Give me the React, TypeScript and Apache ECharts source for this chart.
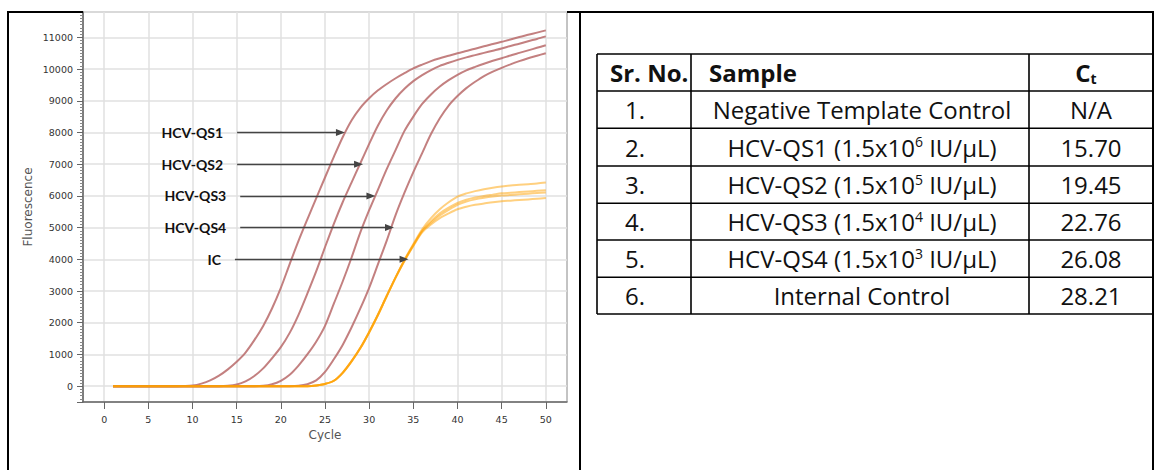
import React, { useEffect, useRef } from 'react';
import * as echarts from 'echarts';

const cycles = [1, 2, 3, 4, 5, 6, 7, 8, 9, 10, 11, 12, 13, 14, 15, 16, 17, 18, 19, 20, 21, 22, 23, 24, 25, 26, 27, 28, 29, 30, 31, 32, 33, 34, 35, 36, 37, 38, 39, 40, 41, 42, 43, 44, 45, 46, 47, 48, 49, 50];

const hcvQs1 = [0, 0, 0, 0, 0, 0, 0, 0, 5, 20, 80, 180, 330, 530, 770, 1060, 1450, 1900, 2450, 3100, 3850, 4580, 5260, 5920, 6580, 7230, 7850, 8380, 8780, 9080, 9330, 9530, 9710, 9870, 10020, 10140, 10250, 10340, 10420, 10500, 10570, 10640, 10720, 10790, 10860, 10930, 11010, 11080, 11150, 11220];
const hcvQs2 = [0, 0, 0, 0, 0, 0, 0, 0, 0, 0, 0, 0, 0, 10, 50, 150, 320, 560, 880, 1230, 1680, 2250, 2920, 3620, 4380, 5120, 5800, 6420, 7030, 7640, 8220, 8700, 9080, 9380, 9620, 9810, 9970, 10100, 10200, 10290, 10370, 10440, 10510, 10580, 10650, 10730, 10800, 10880, 10950, 11030];
const hcvQs3 = [0, 0, 0, 0, 0, 0, 0, 0, 0, 0, 0, 0, 0, 0, 0, 0, 0, 10, 60, 170, 360, 650, 1000, 1400, 1900, 2600, 3300, 4050, 4850, 5550, 6200, 6850, 7450, 8050, 8500, 8900, 9200, 9450, 9650, 9820, 9960, 10070, 10170, 10260, 10340, 10430, 10510, 10590, 10670, 10750];
const hcvQs4 = [0, 0, 0, 0, 0, 0, 0, 0, 0, 0, 0, 0, 0, 0, 0, 0, 0, 0, 0, 0, 0, 10, 60, 180, 450, 850, 1300, 1850, 2450, 3100, 3850, 4600, 5400, 6100, 6750, 7350, 7950, 8450, 8850, 9150, 9400, 9600, 9780, 9920, 10040, 10150, 10250, 10340, 10420, 10500];
const icA = [0, 0, 0, 0, 0, 0, 0, 0, 0, 0, 0, 0, 0, 0, 0, 0, 0, 0, 0, 0, 0, 0, 0, 20, 70, 170, 420, 780, 1200, 1700, 2250, 2850, 3430, 3990, 4480, 4950, 5300, 5580, 5800, 5980, 6080, 6150, 6210, 6260, 6300, 6330, 6350, 6370, 6390, 6420];
const icB = [0, 0, 0, 0, 0, 0, 0, 0, 0, 0, 0, 0, 0, 0, 0, 0, 0, 0, 0, 0, 0, 0, 0, 20, 70, 170, 420, 780, 1200, 1700, 2250, 2850, 3430, 3970, 4450, 4900, 5200, 5450, 5630, 5780, 5880, 5950, 6000, 6040, 6080, 6100, 6120, 6140, 6160, 6180];
const icC = [0, 0, 0, 0, 0, 0, 0, 0, 0, 0, 0, 0, 0, 0, 0, 0, 0, 0, 0, 0, 0, 0, 0, 20, 70, 170, 420, 780, 1200, 1700, 2250, 2850, 3430, 3960, 4440, 4880, 5150, 5380, 5560, 5720, 5820, 5890, 5940, 5980, 6010, 6030, 6050, 6070, 6090, 6110];
const icD = [0, 0, 0, 0, 0, 0, 0, 0, 0, 0, 0, 0, 0, 0, 0, 0, 0, 0, 0, 0, 0, 0, 0, 20, 70, 170, 420, 780, 1200, 1700, 2250, 2850, 3430, 3950, 4420, 4850, 5100, 5300, 5450, 5580, 5660, 5720, 5760, 5800, 5830, 5850, 5870, 5890, 5910, 5930];

const xTickLabels = [0, 5, 10, 15, 20, 25, 30, 35, 40, 45, 50];
const yTickLabels = [0, 1000, 2000, 3000, 4000, 5000, 6000, 7000, 8000, 9000, 10000, 11000];

const arrowNames = ['HCV-QS1', 'HCV-QS2', 'HCV-QS3', 'HCV-QS4', 'IC'];
const arrowLevels = [8000, 7000, 6000, 5000, 4000];
const arrowStarts = [15.05, 15.05, 15.4, 15.4, 14.8];
const arrowTips = [26.75, 28.8, 30.2, 32.3, 33.95];

const tableHeaders = ['Sr. No.', 'Sample', 'C{sub|t}'];
const tableSrNo = ['1.', '2.', '3.', '4.', '5.', '6.'];
const tableSamples = ['Negative Template Control', 'HCV-QS1', 'HCV-QS2', 'HCV-QS3', 'HCV-QS4', 'Internal Control'];
const tableExponents = ['', '6', '5', '4', '3', ''];
const tableCt = ['N/A', '15.70', '19.45', '22.76', '26.08', '28.21'];

const RED = '#b86a6a';
const ORANGE = '#ffa200';
const LABEL_FONT = 'Lato';
const TABLE_FONT = 'Open Sans';

function buildGraphic() {
  const els: any[] = [];
  const black = '#000';
  const frameLines = [
    [8, 12, 83, 12],
    [567, 12, 1153, 12],
    [8, 11, 8, 470],
    [580, 12, 580, 470],
    [1153, 11, 1153, 470],
  ];
  frameLines.forEach((l) => {
    els.push({ type: 'line', silent: true, z: 100, shape: { x1: l[0], y1: l[1], x2: l[2], y2: l[3] }, style: { stroke: black, lineWidth: 2 } });
  });
  const colX = [597, 691, 1029, 1153];
  const rowY = [54, 91, 128.3, 166, 203.3, 240, 277.3, 314];
  rowY.forEach((y) => {
    els.push({ type: 'line', silent: true, z: 100, shape: { x1: colX[0], y1: y, x2: colX[3], y2: y }, style: { stroke: black, lineWidth: 1.6 } });
  });
  colX.forEach((x) => {
    els.push({ type: 'line', silent: true, z: 100, shape: { x1: x, y1: rowY[0], x2: x, y2: rowY[rowY.length - 1] }, style: { stroke: black, lineWidth: 1.6 } });
  });
  const baseStyle = { fontFamily: TABLE_FONT, fontSize: 24, fill: '#111', verticalAlign: 'middle' };
  const headY = (rowY[0] + rowY[1]) / 2;
  els.push({ type: 'text', z: 101, silent: true, style: { ...baseStyle, fontWeight: 'bold', text: tableHeaders[0], x: 610, y: headY, align: 'left' } });
  els.push({ type: 'text', z: 101, silent: true, style: { ...baseStyle, fontWeight: 'bold', text: tableHeaders[1], x: 709, y: headY, align: 'left' } });
  els.push({
    type: 'text', z: 101, silent: true,
    style: {
      ...baseStyle, fontWeight: 'bold', text: tableHeaders[2], x: 1086, y: headY, align: 'center',
      rich: { sub: { fontFamily: TABLE_FONT, fontSize: 14, fontWeight: 'bold', fill: '#111', padding: [12, 0, 0, 0] } },
    },
  });
  tableSrNo.forEach((sr, i) => {
    const y = (rowY[i + 1] + rowY[i + 2]) / 2;
    els.push({ type: 'text', z: 101, silent: true, style: { ...baseStyle, text: sr, x: 625, y, align: 'left' } });
    const exp = tableExponents[i];
    const sampleText = exp ? `${tableSamples[i]} (1.5x10{sup|${exp}} IU/µL)` : tableSamples[i];
    els.push({
      type: 'text', z: 101, silent: true,
      style: {
        ...baseStyle, text: sampleText, x: 862, y, align: 'center',
        rich: { sup: { fontFamily: TABLE_FONT, fontSize: 14, fill: '#111', padding: [0, 0, 11, 0] } },
      },
    });
    els.push({ type: 'text', z: 101, silent: true, style: { ...baseStyle, text: tableCt[i], x: 1091, y, align: 'center' } });
  });
  return els;
}

function lineSeries(name: string, values: number[], color: string, opacity: number) {
  return {
    name,
    type: 'line',
    data: cycles.map((c, i) => [c, values[i]]),
    showSymbol: false,
    smooth: 0.3,
    silent: true,
    lineStyle: { color, width: 2, opacity },
    z: 3,
  };
}

export default function App() {
  const ref = useRef<HTMLDivElement>(null);
  useEffect(() => {
    if (!ref.current) return;
    const chart = echarts.init(ref.current, undefined, { renderer: 'svg' });
    const tickFont = { fontFamily: 'DejaVu Sans', fontSize: 9.5, color: '#333' };
    const option: any = {
      animation: false,
      backgroundColor: '#fff',
      grid: { left: 83, top: 12, right: 588, bottom: 68, show: true, borderColor: '#888', borderWidth: 1, backgroundColor: '#fff' },
      xAxis: {
        type: 'value',
        min: -2.4,
        max: 52.4,
        minInterval: 5,
        maxInterval: 5,
        name: 'Cycle',
        nameLocation: 'middle',
        nameGap: 24,
        nameTextStyle: { fontFamily: 'DejaVu Sans', fontSize: 12, color: '#555' },
        axisLine: { show: true, onZero: false, lineStyle: { color: '#666', width: 1.5 } },
        axisTick: { show: true, length: 7, lineStyle: { color: '#666' }, customValues: xTickLabels },
        axisLabel: {
          ...tickFont,
          margin: 12,
          customValues: xTickLabels,
          formatter: (v: number) => (xTickLabels.indexOf(v) >= 0 ? String(v) : ''),
        },
        splitLine: { show: true, lineStyle: { color: '#e0e0e0', width: 1.5 } },
      },
      yAxis: {
        type: 'value',
        min: -500,
        max: 11800,
        minInterval: 1000,
        maxInterval: 1000,
        name: 'Fluorescence',
        nameLocation: 'middle',
        nameGap: 49,
        nameTextStyle: { fontFamily: 'DejaVu Sans', fontSize: 12, color: '#555' },
        axisLine: { show: true, onZero: false, lineStyle: { color: '#666', width: 1.5 } },
        axisTick: { show: true, length: 6, lineStyle: { color: '#666' } },
        minorTick: { show: true, splitNumber: 10, length: 3, lineStyle: { color: '#888' } },
        axisLabel: {
          ...tickFont,
          margin: 10,
          customValues: yTickLabels,
          formatter: (v: number) => (yTickLabels.indexOf(v) >= 0 ? String(v) : ''),
        },
        splitLine: { show: true, lineStyle: { color: '#e0e0e0', width: 1.5 } },
      },
      series: [
        lineSeries('HCV-QS1', hcvQs1, RED, 0.85),
        lineSeries('HCV-QS2', hcvQs2, RED, 0.85),
        lineSeries('HCV-QS3', hcvQs3, RED, 0.85),
        lineSeries('HCV-QS4', hcvQs4, RED, 0.85),
        lineSeries('IC-1', icA, ORANGE, 0.5),
        lineSeries('IC-2', icB, ORANGE, 0.5),
        lineSeries('IC-3', icC, ORANGE, 0.5),
        lineSeries('IC-4', icD, ORANGE, 0.5),
        {
          name: 'arrows',
          type: 'line',
          data: [],
          silent: true,
          z: 5,
          markLine: {
            silent: true,
            animation: false,
            symbol: ['none', 'triangle'],
            symbolSize: [7, 9],
            lineStyle: { color: '#444', width: 1.3, type: 'solid' },
            label: {
              show: true,
              position: 'start',
              distance: 14,
              fontFamily: LABEL_FONT,
              fontSize: 14,
              fontWeight: 'bold',
              color: '#111',
            },
            emphasis: { disabled: true },
            data: arrowNames.map((name, i) => [
              { coord: [arrowStarts[i], arrowLevels[i]], label: { formatter: name } },
              { coord: [arrowTips[i], arrowLevels[i]] },
            ]),
          },
        },
      ],
      graphic: buildGraphic(),
    };
    chart.setOption(option);
    return () => chart.dispose();
  }, []);
  return <div ref={ref} style={{ position: 'absolute', left: 0, top: 0, width: 1155, height: 470 }} />;
}
